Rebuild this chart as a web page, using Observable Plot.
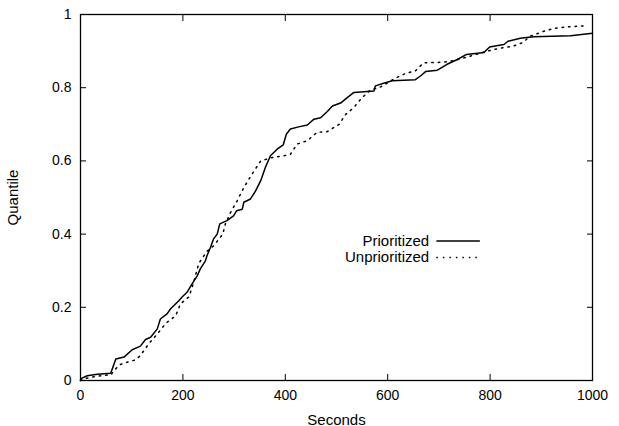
<!DOCTYPE html>
<html>
<head>
<meta charset="utf-8">
<script src="https://cdn.jsdelivr.net/npm/d3@7"></script>
<script src="https://cdn.jsdelivr.net/npm/@observablehq/plot@0.6"></script>
<style>
  html, body { margin: 0; padding: 0; background: #fff; }
</style>
</head>
<body>
<div id="chart"></div>
<script>
// Prioritized (solid)
const prioritizedX = [0,1,13,33,59,69,85,101,117,127,137,150,156,169,176,192,199,208,218,228,234,244,247,254,260,267,272,286,299,305,316,319,332,342,352,361,371,384,396,402,410,426,443,456,469,482,492,508,521,534,573,576,592,609,654,664,674,697,716,736,754,788,799,827,835,859,885,957,1000];
const prioritizedY = [0,0.005,0.013,0.017,0.020,0.059,0.064,0.084,0.094,0.112,0.118,0.141,0.168,0.182,0.196,0.218,0.229,0.241,0.264,0.286,0.305,0.327,0.341,0.364,0.387,0.400,0.428,0.437,0.450,0.464,0.468,0.487,0.496,0.518,0.546,0.582,0.614,0.632,0.644,0.673,0.687,0.693,0.698,0.714,0.718,0.735,0.750,0.758,0.773,0.787,0.791,0.805,0.812,0.819,0.822,0.832,0.844,0.848,0.864,0.877,0.891,0.896,0.911,0.918,0.927,0.935,0.939,0.942,0.949];

// Unprioritized (dotted)
const unprioritizedX = [0,2,20,40,60,65,78,91,107,117,124,133,150,163,169,186,195,212,221,231,247,260,278,283,293,306,319,335,352,374,397,410,423,443,462,482,505,518,534,550,566,586,615,635,654,670,697,719,745,768,794,820,846,863,879,902,924,951,983,990];
const unprioritizedY = [0,0.003,0.009,0.013,0.016,0.027,0.044,0.050,0.056,0.068,0.082,0.100,0.127,0.150,0.159,0.177,0.209,0.229,0.268,0.320,0.353,0.368,0.400,0.428,0.459,0.491,0.527,0.564,0.600,0.609,0.614,0.618,0.646,0.655,0.678,0.680,0.700,0.727,0.746,0.773,0.793,0.802,0.826,0.839,0.846,0.868,0.869,0.871,0.880,0.889,0.900,0.908,0.914,0.923,0.941,0.953,0.962,0.966,0.969,0.970];

const seriesNames = ["Prioritized", "Unprioritized"];
const xTicks = [0, 200, 400, 600, 800, 1000];
const yTicks = [0, 0.2, 0.4, 0.6, 0.8, 1];
const xLabel = "Seconds";
const yLabel = "Quantile";

const prioritized = prioritizedX.map((x, i) => ({x, y: prioritizedY[i]}));
const unprioritized = unprioritizedX.map((x, i) => ({x, y: unprioritizedY[i]}));

// legend placement (layout, in data units)
const legendTextX = 681, legendLineX1 = 696, legendLineX2 = 781;
const legendRows = seriesNames.map((name, i) => ({name, y: 0.381 - i * 0.045}));

const dash = "1.5,5";

const chart = Plot.plot({
  width: 619,
  height: 426,
  marginLeft: 80,
  marginRight: 27,
  marginTop: 14,
  marginBottom: 46,
  style: {fontFamily: "'Liberation Sans', Arial, sans-serif", fontSize: "14px", color: "#000", background: "#fff"},
  x: {domain: [0, 1000]},
  y: {domain: [0, 1]},
  marks: [
    Plot.axisX(xTicks, {anchor: "bottom", tickSize: -6, tickPadding: 16, tickFormat: d => String(d), label: null, stroke: "#000", strokeWidth: 1}),
    Plot.axisX({anchor: "bottom", ticks: [], label: xLabel, labelAnchor: "center", labelOffset: 44, labelArrow: "none", fontSize: 15}),
    Plot.axisX(xTicks, {anchor: "top", tickSize: -6, tickFormat: () => "", label: null, stroke: "#000"}),
    Plot.axisY(yTicks, {anchor: "left", tickSize: -6, tickPadding: 15, tickFormat: d => String(d), label: null, stroke: "#000"}),
    Plot.axisY({anchor: "left", ticks: [], label: yLabel, labelAnchor: "center", labelOffset: 73, labelArrow: "none", fontSize: 15}),
    Plot.axisY(yTicks, {anchor: "right", tickSize: -6, tickFormat: () => "", label: null, stroke: "#000"}),
    Plot.frame({stroke: "#000", strokeWidth: 1.3}),
    Plot.line(prioritized, {x: "x", y: "y", stroke: "#000", strokeWidth: 1.5}),
    Plot.line(unprioritized, {x: "x", y: "y", stroke: "#000", strokeWidth: 1.5, strokeDasharray: dash}),
    Plot.text(legendRows, {x: () => legendTextX, y: "y", text: "name", textAnchor: "end", lineAnchor: "middle", fill: "#000", fontSize: 15}),
    Plot.ruleY(legendRows.slice(0, 1), {y: "y", x1: () => legendLineX1, x2: () => legendLineX2, stroke: "#000", strokeWidth: 1.5}),
    Plot.ruleY(legendRows.slice(1, 2), {y: "y", x1: () => legendLineX1, x2: () => legendLineX2, stroke: "#000", strokeWidth: 1.5, strokeDasharray: dash})
  ]
});
document.getElementById("chart").appendChild(chart);
</script>
</body>
</html>
